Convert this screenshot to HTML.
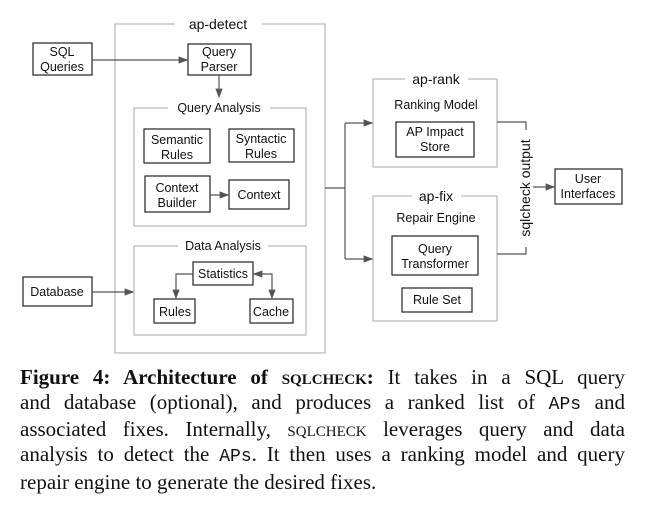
<!DOCTYPE html>
<html><head><meta charset="utf-8"><style>
body{margin:0;background:#fff;width:655px;height:512px;overflow:hidden;position:relative}
svg{position:absolute;left:0;top:0}
svg text{font-family:"Liberation Sans",sans-serif;font-size:12.5px;fill:#111;text-anchor:middle}
.cap{position:absolute;left:20px;top:365px;width:605px;font-family:"Liberation Serif",serif;font-size:21px;line-height:24.7px;color:#111}
.cap div{text-align:justify;text-align-last:justify;white-space:nowrap}
.cap div.last{text-align-last:left}
.sc{font-variant:small-caps}
.mono{font-family:"Liberation Mono",monospace;font-size:18px}
</style></head><body>
<svg width="655" height="360" viewBox="0 0 655 360">
<defs><marker id="ar" markerWidth="8" markerHeight="8" refX="7" refY="4" orient="auto-start-reverse"><path d="M0,1 L8,4 L0,7z" fill="#555"/></marker></defs>
<g fill="none" stroke="#aaa" stroke-width="1">
<path d="M175,24 H115 V353 H325 V24 H262"/>
<path d="M168,108 H134 V226 H306 V108 H270"/>
<path d="M178,246 H134 V335 H306 V246 H268"/>
<path d="M405,79 H373 V167 H497 V79 H468"/>
<path d="M412,196 H373 V321 H497 V196 H461"/>
</g>
<g fill="#fff" stroke="#222" stroke-width="1.2">
<rect x="33" y="43" width="59" height="32"/>
<rect x="188" y="44" width="63" height="31"/>
<rect x="144" y="129" width="66" height="34"/>
<rect x="229" y="129" width="65" height="33"/>
<rect x="145" y="176" width="65" height="36"/>
<rect x="229" y="180" width="60" height="29"/>
<rect x="193" y="262" width="60" height="23"/>
<rect x="154" y="299" width="41" height="24"/>
<rect x="250" y="299" width="43" height="24"/>
<rect x="23" y="277" width="69" height="29"/>
<rect x="396" y="122" width="78" height="35"/>
<rect x="392" y="236" width="86" height="39"/>
<rect x="402" y="288" width="70" height="24"/>
<rect x="555" y="169" width="67" height="35"/>
</g>
<g fill="none" stroke="#555" stroke-width="1.2">
<path d="M92,60 H187" marker-end="url(#ar)"/>
<path d="M219,75 V97" marker-end="url(#ar)"/>
<path d="M210,195 H228" marker-end="url(#ar)"/>
<path d="M193,274 H176 V298" marker-end="url(#ar)"/>
<path d="M254,274 H272 V298" marker-start="url(#ar)" marker-end="url(#ar)"/>
<path d="M92,292 H133" marker-end="url(#ar)"/>
<path d="M325,188 H345 M345,123 V259" />
<path d="M345,123 H372" marker-end="url(#ar)"/>
<path d="M345,259 H372" marker-end="url(#ar)"/>
<path d="M497,122 H526 V130 M497,254 H526 V247"/>
<path d="M533,187 H554" marker-end="url(#ar)"/>
</g>
<text x="218" y="29" style="font-size:14px">ap-detect</text>
<text x="219" y="112">Query Analysis</text>
<text x="223" y="250">Data Analysis</text>
<text x="436" y="84" style="font-size:14px">ap-rank</text>
<text x="436" y="201" style="font-size:14px">ap-fix</text>
<text x="62" y="56">SQL</text><text x="62" y="71">Queries</text>
<text x="219" y="56">Query</text><text x="219" y="71">Parser</text>
<text x="177" y="144">Semantic</text><text x="177" y="159">Rules</text>
<text x="261" y="143">Syntactic</text><text x="261" y="158">Rules</text>
<text x="177" y="192">Context</text><text x="177" y="207">Builder</text>
<text x="259" y="199">Context</text>
<text x="223" y="278">Statistics</text>
<text x="175" y="316">Rules</text>
<text x="271" y="316">Cache</text>
<text x="57" y="296">Database</text>
<text x="436" y="109">Ranking Model</text>
<text x="435" y="136">AP Impact</text><text x="435" y="151">Store</text>
<text x="436" y="222">Repair Engine</text>
<text x="435" y="253">Query</text><text x="435" y="268">Transformer</text>
<text x="437" y="304">Rule Set</text>
<text x="588" y="183">User</text><text x="588" y="198">Interfaces</text>
<text x="0" y="0" transform="translate(530,188) rotate(-90)" style="font-size:14px">sqlcheck output</text>
</svg>
<div class="cap">
<div><b>Figure 4: Architecture of <span class="sc">sqlcheck</span>:</b> It takes in a SQL query</div>
<div>and database (optional), and produces a ranked list of <span class="mono">APs</span> and</div>
<div>associated fixes. Internally, <span class="sc">sqlcheck</span> leverages query and data</div>
<div>analysis to detect the <span class="mono">APs</span>. It then uses a ranking model and query</div>
<div class="last">repair engine to generate the desired fixes.</div>
</div>
</body></html>
